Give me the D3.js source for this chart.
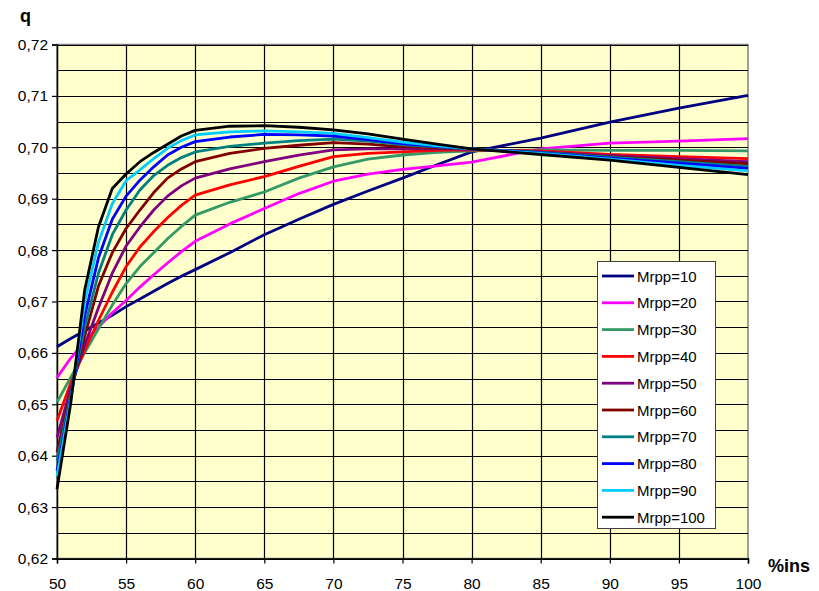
<!DOCTYPE html>
<html>
<head>
<meta charset="utf-8">
<script src="https://cdn.jsdelivr.net/npm/d3@7"></script>
<style>
  html, body { margin: 0; padding: 0; background: #ffffff; }
  svg { display: block; font-family: Arial, "Liberation Sans", sans-serif; }
</style>
</head>
<body>
<svg id="chart" width="819" height="591"></svg>
<script>
// Share of insulin (%ins) on the x axis
const xValues = [50, 51, 52, 53, 54, 55, 56, 57, 58, 59, 60, 62.5, 65, 67.5, 70, 72.5, 75, 77.5, 80, 85, 90, 95, 100];

const seriesNames = ["Mrpp=10", "Mrpp=20", "Mrpp=30", "Mrpp=40", "Mrpp=50",
                     "Mrpp=60", "Mrpp=70", "Mrpp=80", "Mrpp=90", "Mrpp=100"];
const seriesColors = ["#000080", "#FF00FF", "#339966", "#FF0000", "#800080",
                      "#800000", "#008080", "#0000FF", "#00CCFF", "#000000"];

// q for each Mrpp value
const mrpp10  = [.6612,.6628,.6643,.6658,.6673,.6690,.6705,.6720,.6735,.6749,.6762,.6795,.6830,.6860,.6889,.6915,.6940,.6966,.6991,.7018,.7049,.7076,.7101];
const mrpp20  = [.6552,.6590,.6622,.6650,.6678,.6702,.6728,.6752,.6775,.6797,.6817,.6851,.6881,.6910,.6934,.6948,.6957,.6964,.6971,.6997,.7008,.7012,.7017];
const mrpp30  = [.6504,.6553,.6600,.6647,.6693,.6735,.6768,.6795,.6822,.6846,.6868,.6893,.6913,.6940,.6962,.6977,.6985,.6990,.6993,.6995,.6994,.6994,.6993];
const mrpp40  = [.6468,.6542,.6605,.6663,.6718,.6768,.6806,.6836,.6863,.6887,.6907,.6927,.6943,.6963,.6982,.6988,.6991,.6994,.6995,.6993,.6986,.6982,.6978];
const mrpp50  = [.6435,.6532,.6615,.6688,.6755,.6808,.6845,.6878,.6905,.6925,.6940,.6958,.6972,.6985,.6995,.6997,.6997,.6997,.6996,.6991,.6984,.6978,.6972];
const mrpp60  = [.6407,.6524,.6632,.6730,.6795,.6842,.6878,.6912,.6940,.6958,.6972,.6988,.6998,.7004,.7009,.7006,.7001,.6999,.6997,.6990,.6982,.6975,.6968];
const mrpp70  = [.6390,.6519,.6650,.6755,.6830,.6878,.6917,.6945,.6965,.6980,.6991,.7002,.7008,.7013,.7016,.7012,.7005,.7001,.6997,.6990,.6981,.6972,.6963];
const mrpp80  = [.6370,.6513,.6672,.6785,.6860,.6905,.6936,.6962,.6985,.7000,.7011,.7020,.7025,.7024,.7022,.7015,.7007,.7002,.6997,.6989,.6979,.6969,.6959];
const mrpp90  = [.6360,.6510,.6698,.6815,.6890,.6935,.6956,.6978,.6998,.7013,.7024,.7030,.7032,.7030,.7027,.7019,.7010,.7003,.6997,.6988,.6977,.6965,.6954];
const mrpp100 = [.6335,.6503,.6722,.6845,.6920,.6948,.6972,.6990,.7006,.7022,.7033,.7041,.7042,.7039,.7034,.7026,.7016,.7006,.6997,.6986,.6975,.6961,.6947];

const seriesValues = [mrpp10, mrpp20, mrpp30, mrpp40, mrpp50, mrpp60, mrpp70, mrpp80, mrpp90, mrpp100];

const xTicks = [50, 55, 60, 65, 70, 75, 80, 85, 90, 95, 100];
const yTicks = [0.62, 0.63, 0.64, 0.65, 0.66, 0.67, 0.68, 0.69, 0.70, 0.71, 0.72];
const yMinorGrid = [0.625, 0.635, 0.645, 0.655, 0.665, 0.675, 0.685, 0.695, 0.705, 0.715];

const svg = d3.select("#chart");
const plot = { left: 57, right: 748, top: 44.5, bottom: 558.5 };

const x = d3.scaleLinear().domain([50, 100]).range([plot.left, plot.right]);
const y = d3.scaleLinear().domain([0.62, 0.72]).range([plot.bottom, plot.top]);

// plot area
svg.append("rect")
  .attr("x", plot.left).attr("y", plot.top)
  .attr("width", plot.right - plot.left).attr("height", plot.bottom - plot.top)
  .attr("fill", "#FFFFCC").attr("stroke", "#808080").attr("stroke-width", 1.5);

// grid
const grid = svg.append("g").attr("stroke", "#000").attr("stroke-width", 1.2);
grid.selectAll("line.h").data(yTicks.concat(yMinorGrid)).join("line")
  .attr("x1", plot.left).attr("x2", plot.right)
  .attr("y1", d => Math.round(y(d)) + 0.5).attr("y2", d => Math.round(y(d)) + 0.5);
grid.selectAll("line.v").data(xTicks.slice(1, -1)).join("line")
  .attr("y1", plot.top).attr("y2", plot.bottom)
  .attr("x1", d => Math.round(x(d)) + 0.5).attr("x2", d => Math.round(x(d)) + 0.5);

// axes
const fmt = d => d3.format(".2f")(d).replace(".", ",");
const yAxis = svg.append("g")
  .attr("transform", `translate(${plot.left},0)`)
  .call(d3.axisLeft(y).tickValues(yTicks).tickFormat(fmt).tickSize(5).tickPadding(4));
const xAxis = svg.append("g")
  .attr("transform", `translate(0,${plot.bottom})`)
  .call(d3.axisBottom(x).tickValues(xTicks).tickFormat(d3.format("d")).tickSize(5).tickPadding(14));
[yAxis, xAxis].forEach(a => {
  a.select(".domain").attr("stroke", "#000").attr("stroke-width", 1.5);
  a.selectAll(".tick line").attr("stroke", "#000").attr("stroke-width", 1.2);
  a.selectAll("text").attr("font-size", 15.5).attr("fill", "#000")
    .attr("font-family", "Arial, 'Liberation Sans', sans-serif");
});

// curves
const line = d3.line()
  .x((d, i) => x(xValues[i]))
  .y(d => y(d));
svg.append("g").selectAll("path").data(seriesValues).join("path")
  .attr("d", d => line(d))
  .attr("fill", "none")
  .attr("stroke", (d, i) => seriesColors[i])
  .attr("stroke-width", 2.8)
  .attr("stroke-linejoin", "round");

// axis titles
svg.append("text").attr("x", 20).attr("y", 22).attr("font-size", 18)
  .attr("font-weight", "bold").text("q");
svg.append("text").attr("x", 768).attr("y", 572).attr("font-size", 18)
  .attr("font-weight", "bold").text("%ins");

// legend
const lg = svg.append("g").attr("transform", "translate(597,261)");
lg.append("rect").attr("x", 0.5).attr("y", 0.5).attr("width", 118).attr("height", 267)
  .attr("fill", "#fff").attr("stroke", "#404040").attr("stroke-width", 1);
const item = lg.selectAll("g.item").data(seriesNames).join("g")
  .attr("transform", (d, i) => `translate(0,${15 + i * 26.8})`);
item.append("line").attr("x1", 5).attr("x2", 37).attr("y1", 0).attr("y2", 0)
  .attr("stroke", (d, i) => seriesColors[i]).attr("stroke-width", 2.8);
item.append("text").attr("x", 40).attr("y", 5.5).attr("font-size", 15)
  .attr("fill", "#000").text(d => d);
</script>
</body>
</html>
